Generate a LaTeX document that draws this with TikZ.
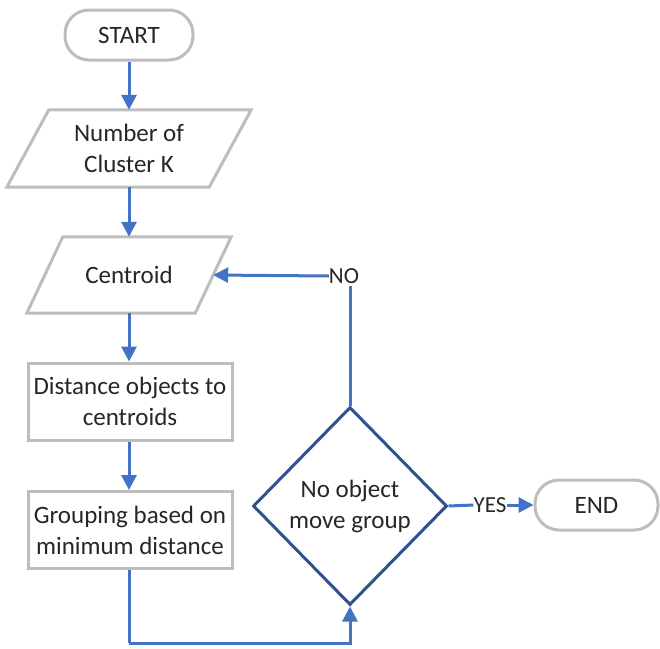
\documentclass[tikz,border=0pt]{standalone}
\usepackage{fontspec}
\setmainfont{Carlito}
\usetikzlibrary{shapes.geometric,arrows.meta,calc}
\definecolor{arrblue}{HTML}{4472C4}
\definecolor{diablue}{HTML}{2F528F}
\definecolor{boxgray}{HTML}{BDBDBD}
\definecolor{txt}{HTML}{262626}
\begin{document}
\begin{tikzpicture}[x=1pt,y=1pt,
  every node/.style={font=\fontsize{25}{31}\selectfont, text=txt, align=center},
  pill/.style={draw=boxgray, line width=3pt, rounded corners=24pt, minimum height=50pt},
  pbox/.style={draw=boxgray, line width=3pt, minimum width=204pt, minimum height=77pt, inner sep=0pt},
  ptext/.style={minimum height=77pt, inner sep=0pt},
  pgram/.style={draw=boxgray, line width=3pt, line join=miter},
  dec/.style={diamond, draw=diablue, line width=3pt, minimum width=194pt, minimum height=198pt, inner sep=0pt},
  lbl/.style={inner sep=0pt, font=\fontsize{23}{26}\selectfont},
  conn/.style={draw=arrblue, line width=3pt},
  arr/.style={conn, -{Triangle[length=15pt,width=15pt]}}
]
\useasboundingbox (0,0) rectangle (660,-648);

\node[pill, minimum width=128pt] (start) at (129,-35) {START};
\node[ptext, minimum width=202pt] (num) at (129,-148.5) {Number of\\Cluster K};
\draw[pgram] ([xshift=21pt]num.north west) -- ([xshift=21pt]num.north east)
  -- ([xshift=-21pt]num.south east) -- ([xshift=-21pt]num.south west) -- cycle;
\node[ptext, minimum width=168pt, minimum height=76pt] (cen) at (129,-275) {Centroid};
\draw[pgram] ([xshift=18pt]cen.north west) -- ([xshift=18pt]cen.north east)
  -- ([xshift=-18pt]cen.south east) -- ([xshift=-18pt]cen.south west) -- cycle;
\node[pbox] (dist) at (130,-401.5) {Distance objects to\\centroids};
\node[pbox] (grp) at (130,-530) {Grouping based on\\minimum distance};
\node[dec] (dia) at (350,-506) {No object\\move group};
\node[pill, minimum width=123pt] (end) at (596.5,-505) {END};
\node[lbl] (no) at (344,-276) {NO};
\node[lbl] (yes) at (490,-505) {YES};
\coordinate (loop) at (129,-643);

\draw[arr] (start.south) -- (num.north);
\draw[arr] (num.south) -- (cen.north);
\draw[arr] (cen.south) -- (dist.north -| cen.south);
\draw[arr] (dist.south -| cen.south) -- (grp.north -| cen.south);
\draw[conn] (grp.south -| cen.south) -- (loop);
\draw[arr] (loop) -| (dia.south);
\draw[conn] (dia.north) -- ([yshift=-2pt]dia.north |- no.south);
\draw[arr] (no.west) -- (cen.east);
\draw[conn] (dia.east) -- (yes.west);
\draw[arr] (yes.east) -- (end.west);
\end{tikzpicture}
\end{document}
